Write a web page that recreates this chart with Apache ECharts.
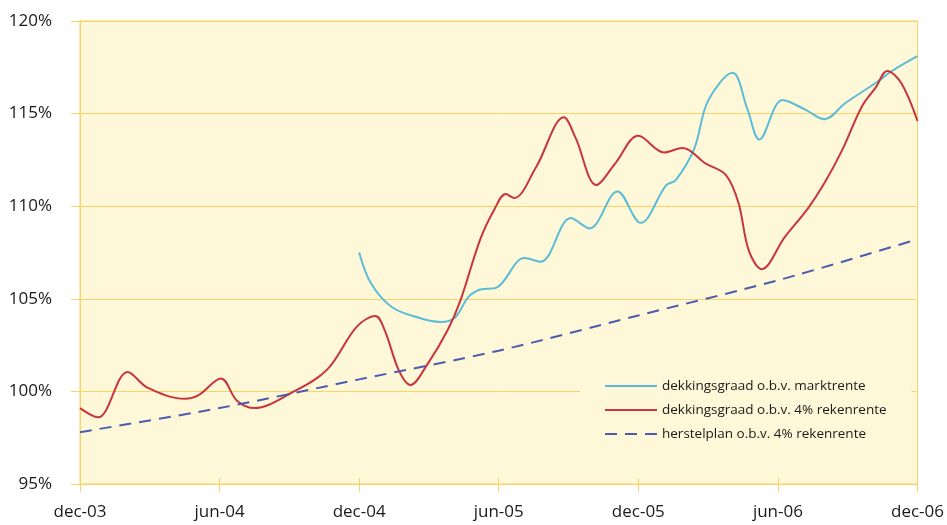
<!DOCTYPE html>
<html>
<head>
<meta charset="utf-8">
<script src="https://cdn.jsdelivr.net/npm/echarts@6/dist/echarts.min.js"></script>
<style>
  html, body { margin: 0; padding: 0; background: #fff; }
  #chart { width: 947px; height: 525px; }
</style>
</head>
<body>
<div id="chart"></div>
<script>
// x = months since dec-03
var tickLabels = ['dec-03', 'jun-04', 'dec-04', 'jun-05', 'dec-05', 'jun-06', 'dec-06'];
var seriesNames = ['dekkingsgraad o.b.v. marktrente', 'dekkingsgraad o.b.v. 4% rekenrente', 'herstelplan o.b.v. 4% rekenrente'];

var marktrente = [
  [12, 107.5], [12.5, 105.85], [13.4, 104.56], [14.6, 103.96], [15.5, 103.75], [16.1, 103.96],
  [16.7, 105.1], [17.2, 105.5], [17.9, 105.6], [19.1, 107.2], [19.8, 107.0], [21.1, 109.36],
  [21.9, 108.8], [23.1, 110.8], [24.1, 109.1], [25.2, 111.14], [25.6, 111.4], [26.4, 113.1],
  [27.0, 115.7], [28.05, 117.2], [28.7, 115.2], [29.2, 113.6], [30.2, 115.73], [31.2, 115.2],
  [32.0, 114.7], [32.9, 115.57], [34.2, 116.65], [34.9, 117.3], [36, 118.1]
];

var rekenrente = [
  [0, 99.1], [0.77, 98.6], [2.05, 101.05], [2.9, 100.2], [4.5, 99.6], [5.1, 99.8], [6.06, 100.7],
  [6.75, 99.5], [7.5, 99.1], [9.05, 99.9], [10.6, 101.15], [11.9, 103.5], [12.7, 104.07],
  [13.1, 103.3], [13.7, 101.15], [14.2, 100.35], [14.95, 101.5], [15.8, 103.3], [16.35, 104.9],
  [17.2, 108.2], [17.8, 109.8], [18.3, 110.66], [18.66, 110.44], [19.6, 112.1], [20.8, 114.8],
  [21.3, 113.7], [22.2, 111.14], [23.0, 112.3], [24.0, 113.8], [25.1, 112.9], [25.9, 113.14],
  [26.9, 112.3], [27.75, 111.7], [28.3, 110.2], [28.75, 107.6], [29.3, 106.6], [30.3, 108.34],
  [31.3, 109.9], [32.0, 111.25], [32.75, 113.0], [33.6, 115.36], [34.2, 116.4], [34.7, 117.3],
  [35.3, 116.65], [36, 114.6]
];

var herstelplan = [
  [0, 97.8], [6, 99.1], [12, 100.65], [18, 102.2], [24, 104.1], [30, 106.0], [35.7, 108.1]
];

var gridColor = '#fbd16a';
var plotBg = '#fef8d8';
var fontFamily = '"Open Sans", sans-serif';

var myChart = echarts.init(document.getElementById('chart'));

var option = {
  animation: false,
  textStyle: { fontFamily: fontFamily },
  grid: {
    left: 80,
    right: 25,
    top: 21,
    bottom: 41,
    show: true,
    backgroundColor: plotBg,
    borderColor: gridColor,
    borderWidth: 1
  },
  legend: {
    orient: 'vertical',
    left: 580,
    top: 361,
    padding: [18, 25, 18, 24],
    backgroundColor: plotBg,
    itemWidth: 52,
    itemHeight: 12,
    itemGap: 10,
    itemStyle: { opacity: 0 },
    textStyle: { fontSize: 13.5, color: '#1a1a1a', fontFamily: fontFamily },
    data: seriesNames
  },
  xAxis: [{
    type: 'value',
    min: 0,
    max: 36,
    interval: 6,
    axisLine: { lineStyle: { color: gridColor, width: 1 } },
    axisTick: { show: true, length: 8, lineStyle: { color: gridColor } },
    axisLabel: {
      margin: 20,
      fontSize: 17,
      color: '#1a1a1a',
      formatter: function (v) { return tickLabels[Math.round(v / 6)]; }
    },
    splitLine: { show: false }
  }, {
    // inner half of the crossing ticks
    type: 'value',
    position: 'bottom',
    min: 0,
    max: 36,
    interval: 6,
    axisLine: { show: false },
    axisTick: { show: true, inside: true, length: 6, lineStyle: { color: gridColor } },
    axisLabel: { show: false },
    splitLine: { show: false }
  }],
  yAxis: {
    type: 'value',
    min: 95,
    max: 120,
    interval: 5,
    axisLine: { show: true, lineStyle: { color: gridColor, width: 1 } },
    axisTick: { show: true, length: 9, lineStyle: { color: gridColor } },
    axisLabel: {
      margin: 28,
      fontSize: 17,
      color: '#1a1a1a',
      formatter: '{value}%'
    },
    splitLine: { show: true, lineStyle: { color: gridColor, width: 1 } }
  },
  series: [{
    name: seriesNames[0],
    type: 'line',
    data: marktrente,
    smooth: 0.35,
    symbol: 'none',
    color: '#5bbcd8',
    lineStyle: { color: '#5bbcd8', width: 2 }
  }, {
    name: seriesNames[1],
    type: 'line',
    data: rekenrente,
    smooth: 0.35,
    symbol: 'none',
    color: '#c8353d',
    lineStyle: { color: '#c8353d', width: 2 }
  }, {
    name: seriesNames[2],
    type: 'line',
    data: herstelplan,
    smooth: 0.3,
    symbol: 'none',
    color: '#4b5cb0',
    lineStyle: { color: '#4b5cb0', width: 2, type: [12, 8] }
  }]
};

myChart.setOption(option);
window.addEventListener('resize', function () {
  myChart.resize();
});
</script>
</body>
</html>
